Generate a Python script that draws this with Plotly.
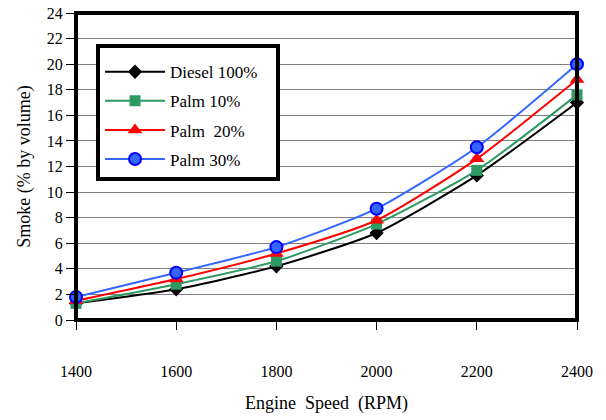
import plotly.graph_objects as go

rpm = [1400, 1600, 1800, 2000, 2200, 2400]
diesel = [1.3, 2.4, 4.2, 6.8, 11.3, 17.0]
palm10 = [1.3, 2.8, 4.6, 7.5, 11.7, 17.6]
palm20 = [1.5, 3.2, 5.2, 7.8, 12.6, 18.8]
palm30 = [1.8, 3.7, 5.7, 8.7, 13.5, 20.0]

names = ["Diesel 100%", "Palm 10%", "Palm&nbsp; 20%", "Palm 30%"]
series = [diesel, palm10, palm20, palm30]
colors = ["#000000", "#2E9A62", "#FF0000", "#3366FF"]
symbols = ["diamond", "square", "triangle-up", "circle"]
sizes = [11, 11, 13, 12]
mline = ["#000000", "#2E9A62", "#FF0000", "#0000FF"]

FONT = "Times New Roman, Liberation Serif, DejaVu Serif, serif"
fig = go.Figure()
for i, (n, ys) in enumerate(zip(names, series)):
    fig.add_trace(go.Scatter(
        x=rpm, y=ys, name=n + "&nbsp;&nbsp;&nbsp;",
        mode="lines+markers", legendgroup=str(i),
        line=dict(color=colors[i], width=2, shape="spline", smoothing=0.6),
        marker=dict(symbol=symbols[i], size=sizes[i], color=colors[i],
                    line=dict(color=mline[i], width=2 if i == 3 else 0)),
        cliponaxis=False,
    ))

fig.update_layout(
    width=606, height=420,
    margin=dict(l=76, r=29, t=13, b=100),
    plot_bgcolor="white", paper_bgcolor="white",
    font=dict(family=FONT, size=16, color="black"),
    showlegend=True,
    legend=dict(x=0.04, y=0.9, xanchor="left", yanchor="top",
                bordercolor="black", borderwidth=4, bgcolor="white",
                font=dict(family=FONT, size=17), tracegroupgap=4,
                itemwidth=60,
                title=dict(text="&nbsp;", font=dict(size=5))),
    xaxis=dict(range=[1400, 2400], tickvals=rpm, ticks="outside", ticklen=9,
               tickcolor="black", showgrid=False, zeroline=False,
               ticklabelstandoff=28, automargin=False,
               tickfont=dict(family=FONT, size=16),
               title=dict(text="Engine  Speed  (RPM)", font=dict(family=FONT, size=18), standoff=17),
               showline=False),
    yaxis=dict(range=[0, 24], dtick=2, ticks="outside", ticklen=9,
               tickcolor="black", showgrid=True, gridcolor="#808080", gridwidth=1,
               zeroline=False, showline=False, automargin=False,
               tickfont=dict(family=FONT, size=16),
               title=dict(text="Smoke (% by volume)", font=dict(family=FONT, size=18), standoff=11)),
)
fig.add_shape(type="rect", xref="x domain", yref="y domain", x0=0, x1=1, y0=0, y1=1,
              line=dict(color="black", width=4), layer="above")
fig.write_html("out.html")
